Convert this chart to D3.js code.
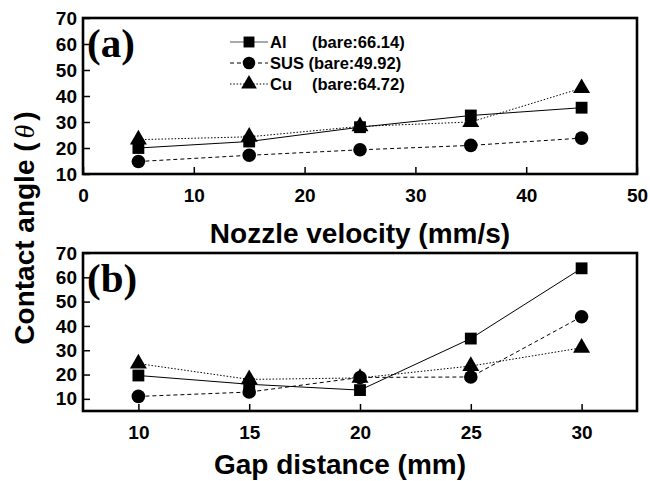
<!DOCTYPE html>
<html>
<head>
<meta charset="utf-8">
<script src="https://cdn.jsdelivr.net/npm/d3@7"></script>
<style>
  body { margin: 0; background: #fff; }
  svg { display: block; }
</style>
</head>
<body>
<div id="viz"></div>
<script>
// --- Data ---
const series = ["Al", "SUS", "Cu"];
const bareLabels = ["(bare:66.14)", "(bare:49.92)", "(bare:64.72)"];

const velocity = [5, 15, 25, 35, 45];
const velAl = [20, 22.5, 28, 32.5, 35.5];
const velSUS = [14.8, 17.2, 19.3, 21, 23.8];
const velCu = [23.2, 24.3, 28.3, 30, 43];

const gap = [10, 15, 20, 25, 30];
const gapAl = [19.6, 16, 13.6, 34.8, 63.7];
const gapSUS = [11, 12.8, 18.8, 19, 43.8];
const gapCu = [24.5, 18, 18.6, 23.5, 31];

const velTicks = [0, 10, 20, 30, 40, 50];
const gapTicks = [10, 15, 20, 25, 30];
const yTicks = [10, 20, 30, 40, 50, 60, 70];

// --- Layout ---
const width = 650, height = 481;
const left = 83, right = 637;
const font = "'Liberation Sans', Arial, sans-serif";

const svg = d3.select("#viz").append("svg")
  .attr("width", width)
  .attr("height", height)
  .style("background", "#fff");

// line style + marker per series
const styles = {
  Al: { dash: null, symbol: d3.symbolSquare, size: 140 },
  SUS: { dash: "4,3", symbol: d3.symbolCircle, size: 145 },
  Cu: { dash: "1.5,1.8", symbol: d3.symbolTriangle, size: 125 }
};

function drawPanel(opts) {
  const { top, bottom, xDomain, yDomain, xTicks, xs, data, tag } = opts;
  const x = d3.scaleLinear().domain(xDomain).range([left, right]);
  const y = d3.scaleLinear().domain(yDomain).range([bottom, top]);
  const g = svg.append("g");

  // axes with inward ticks
  const xAxis = g.append("g")
    .attr("transform", `translate(0,${bottom})`)
    .call(d3.axisBottom(x).tickValues(xTicks).tickSizeInner(-7).tickSizeOuter(0).tickPadding(15));
  const yAxis = g.append("g")
    .attr("transform", `translate(${left},0)`)
    .call(d3.axisLeft(y).tickValues(yTicks).tickSizeInner(-7).tickSizeOuter(0).tickPadding(6));

  [xAxis, yAxis].forEach(a => {
    a.select(".domain").remove();
    a.selectAll(".tick line").attr("stroke", "#000").attr("stroke-width", 1.5);
    a.selectAll("text")
      .attr("fill", "#000")
      .style("font-family", font)
      .style("font-weight", "bold")
      .style("font-size", "19px");
  });

  // frame
  g.append("rect")
    .attr("x", left).attr("y", top)
    .attr("width", right - left).attr("height", bottom - top)
    .attr("fill", "none")
    .attr("stroke", "#000")
    .attr("stroke-width", 2.6);

  // lines
  const line = d3.line().x((d, i) => x(xs[i])).y(d => y(d));
  series.forEach((s, k) => {
    g.append("path")
      .attr("d", line(data[k]))
      .attr("fill", "none")
      .attr("stroke", "#000")
      .attr("stroke-width", 1)
      .attr("stroke-dasharray", styles[s].dash);
  });

  // markers
  series.forEach((s, k) => {
    g.selectAll(null)
      .data(data[k])
      .join("path")
      .attr("d", d3.symbol(styles[s].symbol, styles[s].size))
      .attr("transform", (d, i) => `translate(${x(xs[i])},${y(d)})`)
      .attr("fill", "#000");
  });

  // panel tag
  g.append("text")
    .attr("x", 87)
    .attr("y", top + 39)
    .style("font-family", "'Liberation Serif', 'Times New Roman', serif")
    .style("font-weight", "bold")
    .style("font-size", "41px")
    .text(tag);

  return { x, y };
}

drawPanel({
  top: 18, bottom: 174,
  xDomain: [0, 50], yDomain: [10, 70],
  xTicks: velTicks, xs: velocity,
  data: [velAl, velSUS, velCu], tag: "(a)"
});

drawPanel({
  top: 253, bottom: 411,
  xDomain: [7.5, 32.5], yDomain: [5, 70],
  xTicks: gapTicks, xs: gap,
  data: [gapAl, gapSUS, gapCu], tag: "(b)"
});

// legend
const legend = svg.append("g");
series.forEach((s, k) => {
  const ly = 42 + k * 21;
  legend.append("line")
    .attr("x1", 230).attr("x2", 268)
    .attr("y1", ly).attr("y2", ly)
    .attr("stroke", k === 0 ? "#555" : "#000")
    .attr("stroke-width", 1)
    .attr("stroke-dasharray", styles[s].dash);
  legend.append("path")
    .attr("d", d3.symbol(styles[s].symbol, styles[s].size * 0.85))
    .attr("transform", `translate(249,${ly})`)
    .attr("fill", "#000");
  const label = legend.append("text")
    .attr("x", 270).attr("y", ly + 6)
    .style("font-family", font)
    .style("font-weight", "bold")
    .style("font-size", "16.5px");
  if (s === "SUS") {
    label.text(s + " " + bareLabels[k]);
  } else {
    label.text(s);
    legend.append("text")
      .attr("x", 312).attr("y", ly + 6)
      .style("font-family", font)
      .style("font-weight", "bold")
      .style("font-size", "16.5px")
      .text(bareLabels[k]);
  }
});

// axis titles
const titleStyle = t => t
  .style("font-family", font)
  .style("font-weight", "bold")
  .style("font-size", "28px")
  .attr("text-anchor", "middle");

svg.append("text")
  .attr("x", 360).attr("y", 243)
  .call(titleStyle)
  .text("Nozzle velocity (mm/s)");

svg.append("text")
  .attr("x", 340).attr("y", 474)
  .call(titleStyle)
  .text("Gap distance (mm)");

const yt = svg.append("text")
  .attr("transform", "translate(34,228) rotate(-90)")
  .call(titleStyle);
yt.append("tspan").text("Contact angle (");
yt.append("tspan")
  .attr("dx", 4)
  .style("font-family", "'Liberation Serif', 'Times New Roman', serif")
  .style("font-style", "italic")
  .style("font-weight", "normal")
  .text("θ");
yt.append("tspan").attr("dx", 4).text(")");
</script>
</body>
</html>
